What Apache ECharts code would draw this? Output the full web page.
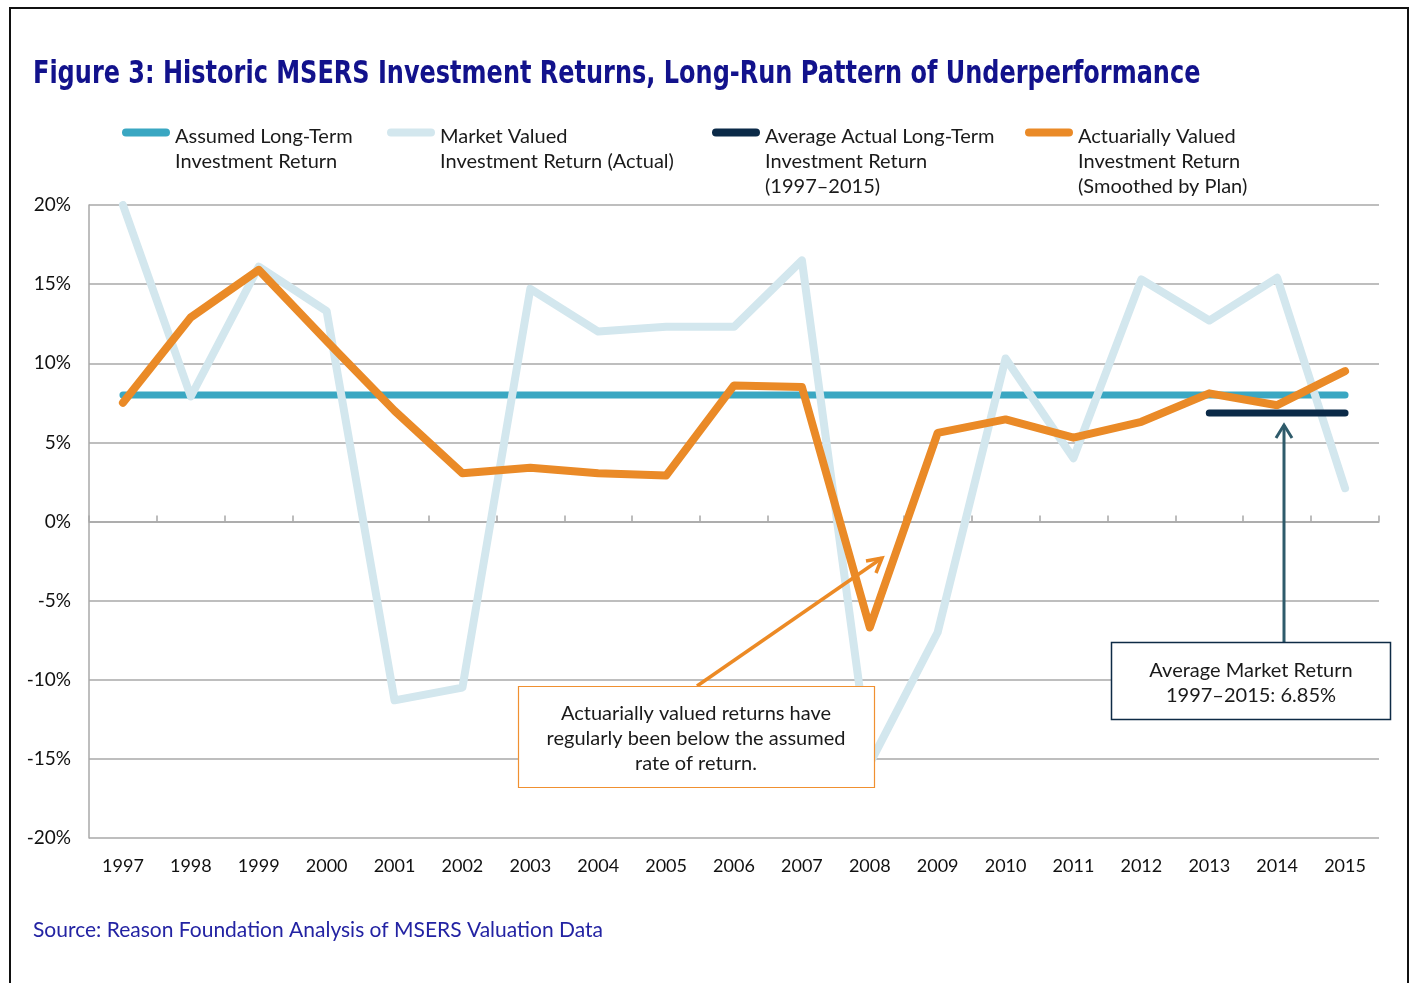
<!DOCTYPE html>
<html>
<head>
<meta charset="utf-8">
<script src="https://cdn.jsdelivr.net/npm/echarts@6/dist/echarts.min.js"></script>
<style>
  html, body { margin: 0; padding: 0; background: #fff; }
  #main { width: 1414px; height: 983px; }
</style>
</head>
<body>
<div id="main"></div>
<script>
// data (percent)
const years = ['1997','1998','1999','2000','2001','2002','2003','2004','2005','2006',
               '2007','2008','2009','2010','2011','2012','2013','2014','2015'];
const assumedReturn   = [8, 8, 8, 8, 8, 8, 8, 8, 8, 8, 8, 8, 8, 8, 8, 8, 8, 8, 8];
const marketReturn    = [20.0, 7.9, 16.1, 13.3, -11.3, -10.5, 14.7, 12.0, 12.3, 12.3,
                         16.5, -15.3, -7.0, 10.3, 4.0, 15.3, 12.7, 15.4, 2.1];
const averageReturn   = [null, null, null, null, null, null, null, null, null, null,
                         null, null, null, null, null, null, 6.85, 6.85, 6.85];
const actuarialReturn = [7.5, 12.9, 15.9, 11.4, 7.0, 3.05, 3.4, 3.05, 2.9, 8.6,
                         8.5, -6.7, 5.6, 6.45, 5.3, 6.3, 8.1, 7.35, 9.5];
const yMin = -20, yMax = 20, yStep = 5;

const seriesNames = [
  'Assumed Long-Term Investment Return',
  'Market Valued Investment Return (Actual)',
  'Average Actual Long-Term Investment Return (1997–2015)',
  'Actuarially Valued Investment Return (Smoothed by Plan)'
];
const legendLabels = [
  'Assumed Long-Term\nInvestment Return',
  'Market Valued\nInvestment Return (Actual)',
  'Average Actual Long-Term\nInvestment Return\n(1997–2015)',
  'Actuarially Valued\nInvestment Return\n(Smoothed by Plan)'
];

const FONT = 'Lato, "Noto Sans", sans-serif';
const GRID_COLOR = '#a8a8a8';

// plot area
const plotTop = 205, plotBottom = 145, plotLeft = 89, plotRight = 35;
const plotH = 983 - plotTop - plotBottom;
// upper half grid: its bottom edge is the 0% line, used for the tick row there
const zeroGridH = plotH * yMax / (yMax - yMin);

// legend item: pill icon on the first text line, text hanging below it
function legendFor(i, left) {
  const lines = legendLabels[i].split('\n').length;
  const lh = 25;
  const h = 2 * (8 + (lines - 1) * lh / 2);
  const icon = 'path://M4,0 H44 A4,4 0 0 1 44,8 H4 A4,4 0 0 1 4,0 Z ' +
               'M0,' + h + ' L0.01,' + h + ' L0,' + (h - 0.01) + ' Z';
  return {
    data: [{ name: seriesNames[i], icon: icon }],
    left: left,
    top: 124,
    padding: 0,
    itemWidth: 48,
    itemHeight: h,
    selectedMode: false,
    formatter: function () { return legendLabels[i]; },
    textStyle: { fontFamily: FONT, fontSize: 20, color: '#1a1a1a', lineHeight: lh }
  };
}

const chart = echarts.init(document.getElementById('main'));

chart.setOption({
  backgroundColor: '#fff',
  animation: false,
  title: {
    text: 'Source: Reason Foundation Analysis of MSERS Valuation Data',
    left: 33, top: 920, padding: 0,
    textStyle: { fontFamily: FONT, fontSize: 21, fontWeight: 'normal', color: '#2323a3' }
  },
  legend: [legendFor(0, 122), legendFor(1, 387), legendFor(2, 712), legendFor(3, 1025)],
  grid: [
    { left: plotLeft, right: plotRight, top: plotTop, bottom: plotBottom },
    { left: plotLeft, right: plotRight, top: plotTop, height: zeroGridH }
  ],
  xAxis: [
    {
      type: 'category', data: years, position: 'bottom', boundaryGap: true,
      axisLine: { show: false, onZero: false }, axisTick: { show: false },
      axisLabel: { color: '#111', fontFamily: FONT, fontSize: 18, margin: 19 }
    },
    {
      type: 'category', data: years, gridIndex: 1, position: 'bottom', boundaryGap: true,
      axisLine: { show: true, onZero: false, lineStyle: { color: GRID_COLOR, width: 1.5 } },
      axisTick: { show: true, inside: true, length: 6, lineStyle: { color: GRID_COLOR, width: 1.5 } },
      axisLabel: { show: false }
    }
  ],
  yAxis: [
    {
      type: 'value', min: yMin, max: yMax, interval: yStep,
      axisLine: { show: true, lineStyle: { color: GRID_COLOR, width: 1.5 } },
      axisTick: { show: false },
      axisLabel: { formatter: '{value}%', color: '#111', fontFamily: FONT, fontSize: 19, margin: 18 },
      splitLine: { lineStyle: { color: GRID_COLOR, width: 1.5 } }
    },
    {
      type: 'value', gridIndex: 1, min: 0, max: yMax, show: false
    }
  ],
  series: [
    {
      name: seriesNames[0], type: 'line', data: assumedReturn, showSymbol: false,
      color: '#3aa7c2', lineStyle: { width: 7, cap: 'round' }, z: 2
    },
    {
      name: seriesNames[1], type: 'line', data: marketReturn, showSymbol: false,
      color: '#d3e7ee', lineStyle: { width: 8, cap: 'round', join: 'round' }, z: 3
    },
    {
      name: seriesNames[2], type: 'line', data: averageReturn, showSymbol: false,
      color: '#0b2a48', lineStyle: { width: 7, cap: 'round' }, z: 4
    },
    {
      name: seriesNames[3], type: 'line', data: actuarialReturn, showSymbol: false,
      color: '#ea8a27', lineStyle: { width: 8, cap: 'round', join: 'round' }, z: 5
    }
  ],
  graphic: [
    // frame
    { type: 'rect', z: 100, silent: true,
      shape: { x: 10, y: 8, width: 1398, height: 990 },
      style: { fill: 'none', stroke: '#111', lineWidth: 2 } },
    // heading, narrowed to match the condensed face
    { type: 'text', z: 100, x: 33, y: 75, scaleX: 0.75,
      style: { text: 'Figure 3: Historic MSERS Investment Returns, Long-Run Pattern of Underperformance',
               fontFamily: '"DejaVu Sans", sans-serif', fontSize: 32, fontWeight: 'bold',
               fill: '#12128c', verticalAlign: 'middle' } },
    // orange annotation arrow
    { type: 'polyline', z: 100, shape: { points: [[697, 686], [882, 558]] },
      style: { stroke: '#ec8a25', lineWidth: 3.5, fill: 'none' } },
    { type: 'polyline', z: 100, shape: { points: [[866, 561], [882, 558], [876, 573]] },
      style: { stroke: '#ec8a25', lineWidth: 3.5, fill: 'none' } },
    // orange annotation box
    { type: 'rect', z: 100, shape: { x: 518.5, y: 686.5, width: 356, height: 101 },
      style: { fill: '#fff', stroke: '#f09030', lineWidth: 1.2 } },
    { type: 'text', z: 101, x: 696, y: 739,
      style: { text: 'Actuarially valued returns have\nregularly been below the assumed\nrate of return.',
               fontFamily: FONT, fontSize: 20, lineHeight: 25, fill: '#1a1a1a',
               align: 'center', verticalAlign: 'middle' } },
    // navy annotation arrow
    { type: 'polyline', z: 100, shape: { points: [[1284, 642], [1284, 425]] },
      style: { stroke: '#2f5b6b', lineWidth: 3, fill: 'none' } },
    { type: 'polyline', z: 100, shape: { points: [[1276, 438], [1284, 425], [1292, 438]] },
      style: { stroke: '#2f5b6b', lineWidth: 3, fill: 'none' } },
    // navy annotation box
    { type: 'rect', z: 100, shape: { x: 1111.5, y: 642.5, width: 279, height: 77 },
      style: { fill: '#fff', stroke: '#0e2b46', lineWidth: 1.5 } },
    { type: 'text', z: 101, x: 1251, y: 683,
      style: { text: 'Average Market Return\n1997–2015: 6.85%',
               fontFamily: FONT, fontSize: 20, lineHeight: 25, fill: '#1a1a1a',
               align: 'center', verticalAlign: 'middle' } }
  ]
});
</script>
</body>
</html>
